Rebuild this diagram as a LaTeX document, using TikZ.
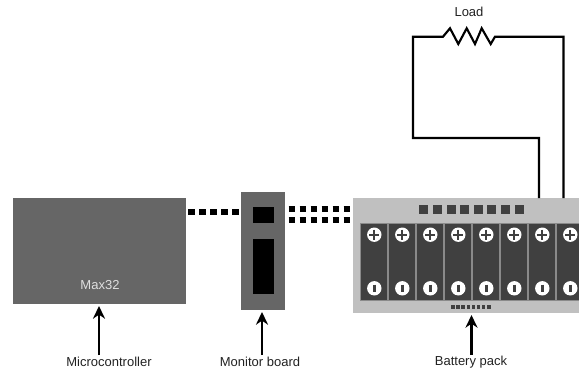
\documentclass[tikz,border=0pt]{standalone}
\usepackage{fontspec}
\setmainfont{Liberation Sans}
\usetikzlibrary{arrows.meta}

\definecolor{boardgray}{HTML}{666666}
\definecolor{packgray}{HTML}{C0C0C0}
\definecolor{cellgray}{HTML}{404040}
\definecolor{celledge}{HTML}{8A8A8A}
\definecolor{labelgray}{HTML}{222222}

\tikzset{
    block/.style={inner sep=0pt, outer sep=0pt, fill=#1},
    caption/.style={inner sep=0pt, text=labelgray, font=\fontsize{9.75}{12}\selectfont},
    wire/.style={line width=1.6pt, black, line join=miter},
    dotwire/.style={line width=4.9pt, black, dash pattern=on 4.9pt off 3.35pt},
    pointer/.style={line width=1.8pt, black, -{Stealth[length=9.5pt, width=9pt, inset=3pt]}, shorten >=1.5pt},
    terminal/.style={circle, fill=white, inner sep=0pt, outer sep=0pt, minimum size=10.8pt}
}

\begin{document}
\begin{tikzpicture}[x=0.75pt, y=-0.75pt]

\useasboundingbox (0,0) rectangle (579,372);
\clip (0,0) rectangle (579,372);

\node[block=boardgray, minimum width=129.75pt, minimum height=79.5pt] (maxboard) at (99.5,251) {};
\node[block=boardgray, minimum width=33pt, minimum height=88.5pt] (monboard) at (263,251) {};
\node[block=black, minimum width=15.75pt, minimum height=12pt] (monchipa) at (263.5,215) {};
\node[block=black, minimum width=15.75pt, minimum height=41.25pt] (monchipb) at (263.5,266.5) {};
\node[block=packgray, minimum width=172.5pt, minimum height=86.25pt] (pack) at (468,255.5) {};

\node[caption, text=packgray!50!white] (maxname) at (100,285.5) {Max32};

% cells
\foreach \x in {373.5,401.5,...,569.5}
{
    \node[block=cellgray, draw=celledge, line width=0.5pt, minimum width=20.25pt, minimum height=57.75pt] at (\x,261.5) {};
    \node[terminal] (plus\x) at (\x+0.8,234.7) {};
    \draw[cellgray, line width=1.5pt] (\x-4.2,234.7) -- (\x+5.8,234.7);
    \draw[cellgray, line width=1.5pt] (\x+0.8,229.7) -- (\x+0.8,239.7);
    \node[terminal] (minus\x) at (\x+0.8,288.3) {};
    \draw[cellgray, line width=2pt] (\x+0.8,284.5) -- (\x+0.8,292);
}

% pads along the top of the pack
\foreach \x in {423.8,437.4,...,519}
{
    \node[block=cellgray, minimum size=6.75pt] at (\x,209.8) {};
}

% connector along the bottom of the pack
\foreach \x in {453,458.1,...,489}
{
    \node[block=cellgray, minimum size=2.7pt] at (\x,307) {};
}

% data lines
\draw[dotwire] (188,212) -- (241,212);
\draw[dotwire] (288.7,209) -- (353,209);
\draw[dotwire] (288.7,220) -- (353,220);

% load loop
\node[caption] (loadname) at (469,12) {Load};
\coordinate (wirea) at (539,198);
\coordinate (wireb) at (563.5,198);
\draw[wire] (wirea) -- (539,138) -- (413,138) -- (413,36.7) -- (443,36.7)
    -- (450,28.3) -- (458.3,44) -- (466.7,28.3) -- (475,44) -- (481.7,28.3) -- (490.7,44) -- (495,36.7)
    -- (563.5,36.7) -- (wireb);

% captions
\node[caption] (microname) at (109,362) {Microcontroller};
\node[caption] (monname) at (260,362) {Monitor board};
\node[caption] (packname) at (471,362) {Battery pack};

\coordinate (microtail) at (99,355);
\coordinate (montail) at (262,355);
\coordinate (packtail) at (471.5,355);
\draw[pointer] (microtail) -- (microtail |- maxboard.south);
\draw[pointer] (montail) -- (montail |- monboard.south);
\draw[pointer] (packtail) -- (packtail |- pack.south);

\end{tikzpicture}
\end{document}
